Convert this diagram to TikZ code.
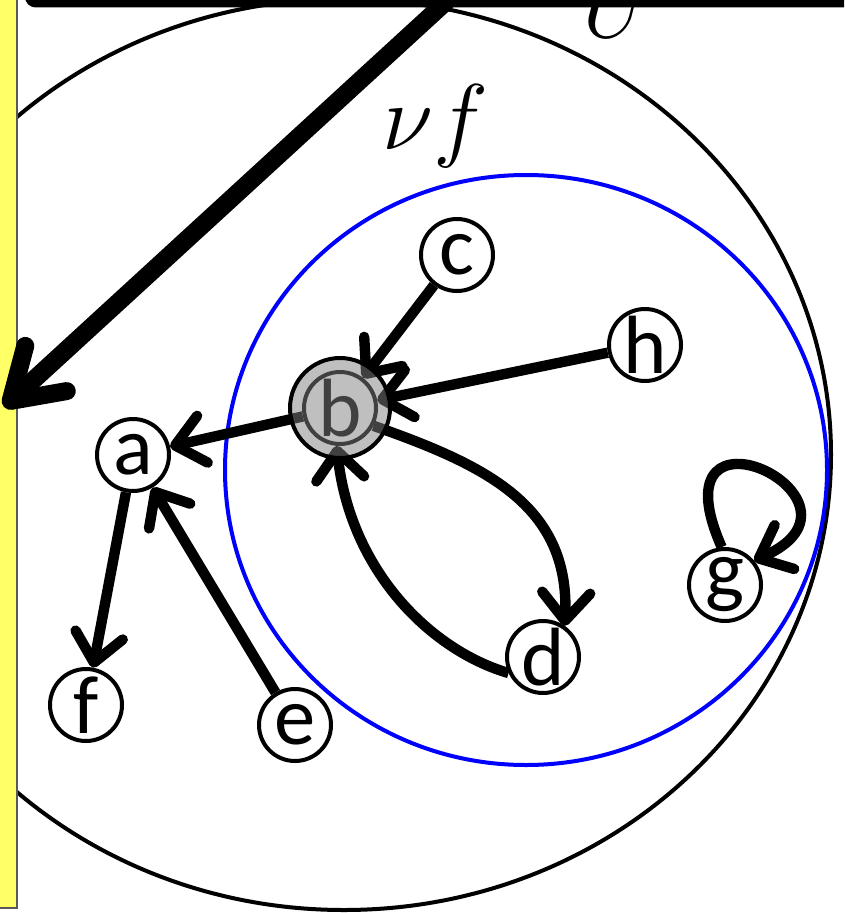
\RequirePackage{fix-cm}
\documentclass[tikz,border=0pt]{standalone}
\usepackage{fontspec}
\setmainfont{Carlito}
\usetikzlibrary{arrows.meta}
\definecolor{padyellow}{HTML}{FFFF66}
\begin{document}
\begin{tikzpicture}[x=0.75pt,y=-0.75pt,
  vnode/.style={circle,draw,line width=3pt,fill=white,minimum size=54pt,inner sep=-4pt,
    font=\fontsize{62}{62}\selectfont},
  lnk/.style={line width=7.8pt,-{Straight Barb[length=21pt,width=36pt,round]}},
  bigarr/.style={line width=13.5pt,-{Straight Barb[length=36pt,width=46pt,round]}},
  mathlbl/.style={font=\fontsize{70}{70}\selectfont,inner sep=0pt}
  ]
\useasboundingbox (0,0) rectangle (844,913);
\clip (0,0) rectangle (844,913);
% outer ellipse and blue circle
\draw[line width=3pt] (344,454.5) ellipse [x radius=487, y radius=455.5];
\draw[blue,line width=3pt] (526,470) ellipse [x radius=301, y radius=295];
% labels
\node[mathlbl,anchor=base] (nf) at (436,150) {$\nu f$};
\node[mathlbl,anchor=base] (uu) at (618,38) {$U$};
% nodes
\node[vnode] (c) at (457,255) {c};
\node[vnode] (h) at (645,345) {h};
\node[vnode] (b) at (340,408) {b};
\node[vnode] (a) at (133,455) {a};
\node[vnode] (f) at (86,705) {f};
\node[vnode] (e) at (295,725) {e};
\node[vnode] (d) at (543,657) {d};
\node[vnode] (g) at (725,585) {g};
% edges
\draw[lnk] (c) -- (b);
\draw[lnk] (h) -- (b);
\draw[lnk] (b) -- (a);
\draw[lnk] (a) -- (f);
\draw[lnk] (e) -- (a);
\draw[lnk] (b.-28) .. controls (485,465) and (570,505) .. (d.55);
\draw[lnk] (d.205) .. controls (430,650) and (350,570) .. (b.-95);
\draw[lnk] (g.95) .. controls (650,385) and (890,500) .. (g.40);
% highlight overlay on b
\fill[black!50,fill opacity=0.5] (b.center) circle [radius=50];
\draw[line width=3pt] (b.center) circle [radius=50];
% left yellow strip
\draw[draw=black!65,fill=padyellow,line width=0.8pt] (-5,-5) rectangle (17,908);
% big arrow
\coordinate (src) at (450,-2);
\coordinate (dst) at (4,407);
\draw[bigarr] (src) -- (dst);
% top bar
\fill[rounded corners=8] (25,-40) rectangle (900,7.5);
\end{tikzpicture}
\end{document}
